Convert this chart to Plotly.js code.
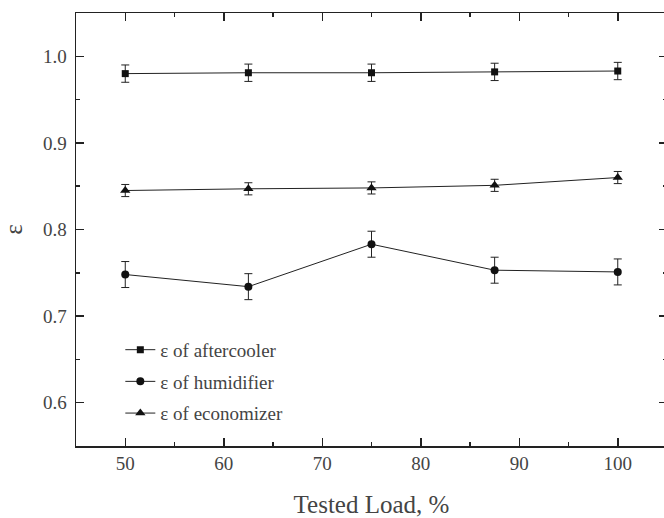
<!DOCTYPE html>
<html>
<head>
<meta charset="utf-8">
<script src="https://cdn.plot.ly/plotly-3.0.1.min.js"></script>
<style>
html,body{margin:0;padding:0;overflow:hidden;background:#fff;}
#chart{width:668px;height:518px;}
#chart svg text{font-family:'Liberation Serif','Times New Roman',serif !important;}
</style>
</head>
<body>
<div id="chart"></div>
<script>
const loads = [50, 62.5, 75, 87.5, 100];
const aftercooler = [0.980, 0.981, 0.981, 0.982, 0.983];
const aftercoolerErr = [0.010, 0.010, 0.010, 0.010, 0.010];
const humidifier = [0.748, 0.734, 0.783, 0.753, 0.751];
const humidifierErr = [0.015, 0.015, 0.015, 0.015, 0.015];
const economizer = [0.845, 0.847, 0.848, 0.851, 0.860];
const economizerErr = [0.007, 0.007, 0.007, 0.007, 0.007];
const seriesNames = ['\u03b5 of aftercooler', '\u03b5 of humidifier', '\u03b5 of economizer'];
const xTicks = [50, 60, 70, 80, 90, 100];
const yTicks = [0.6, 0.7, 0.8, 0.9, 1.0];
const yTickText = ['0.6', '0.7', '0.8', '0.9', '1.0'];
const xTitle = 'Tested Load, %';
const yTitle = '\u03b5';

const ink = '#222222';
const fam = 'Liberation Serif';
function mk(y, err, name, symbol, size, grp) {
  return {
    x: loads, y: y, name: name, type: 'scatter', mode: 'lines+markers', legendgroup: grp,
    line: {color: ink, width: 1},
    marker: {symbol: symbol, size: size, color: '#111'},
    error_y: {type: 'data', array: err, visible: true, color: ink, thickness: 1, width: 4}
  };
}
const data = [
  mk(aftercooler, aftercoolerErr, seriesNames[0], 'square', 7, 'a'),
  mk(humidifier, humidifierErr, seriesNames[1], 'circle', 8, 'h'),
  mk(economizer, economizerErr, seriesNames[2], 'triangle-up', 9, 'e')
];
const layout = {
  width: 668, height: 518,
  margin: {l: 76, r: 1, t: 13, b: 72},
  paper_bgcolor: '#fff', plot_bgcolor: '#fff',
  font: {family: fam, size: 19},
  showlegend: true,
  legend: {x: 0.075, y: 0.266, xanchor: 'left', yanchor: 'top', bgcolor: 'rgba(0,0,0,0)', font: {family: fam, size: 19}, tracegroupgap: 4},
  xaxis: {
    range: [45, 105], tickvals: xTicks, ticks: 'inside', ticklen: 8, tickwidth: 1.5, tickcolor: '#222',
    showline: true, linecolor: '#222', linewidth: 1.5, mirror: 'ticks', showgrid: false, zeroline: false,
    minor: {dtick: 5, ticks: 'inside', ticklen: 4, tickwidth: 1.5, tickcolor: '#222', showgrid: false},
    title: {text: xTitle, font: {family: fam, size: 25}, standoff: 22},
    tickfont: {family: fam, size: 19}
  },
  yaxis: {
    range: [0.55, 1.05], tickvals: yTicks, ticktext: yTickText, ticks: 'inside', ticklen: 8, tickwidth: 1.5, tickcolor: '#222',
    showline: true, linecolor: '#222', linewidth: 1.5, mirror: 'ticks', showgrid: false, zeroline: false,
    minor: {dtick: 0.05, ticks: 'inside', ticklen: 4, tickwidth: 1.5, tickcolor: '#222', showgrid: false},
    ticklabelstandoff: 4,
    title: {text: yTitle, font: {family: fam, size: 25}, standoff: 14},
    tickfont: {family: fam, size: 19}
  }
};
Plotly.newPlot('chart', data, layout, {displayModeBar: false, staticPlot: true});
</script>
</body>
</html>
